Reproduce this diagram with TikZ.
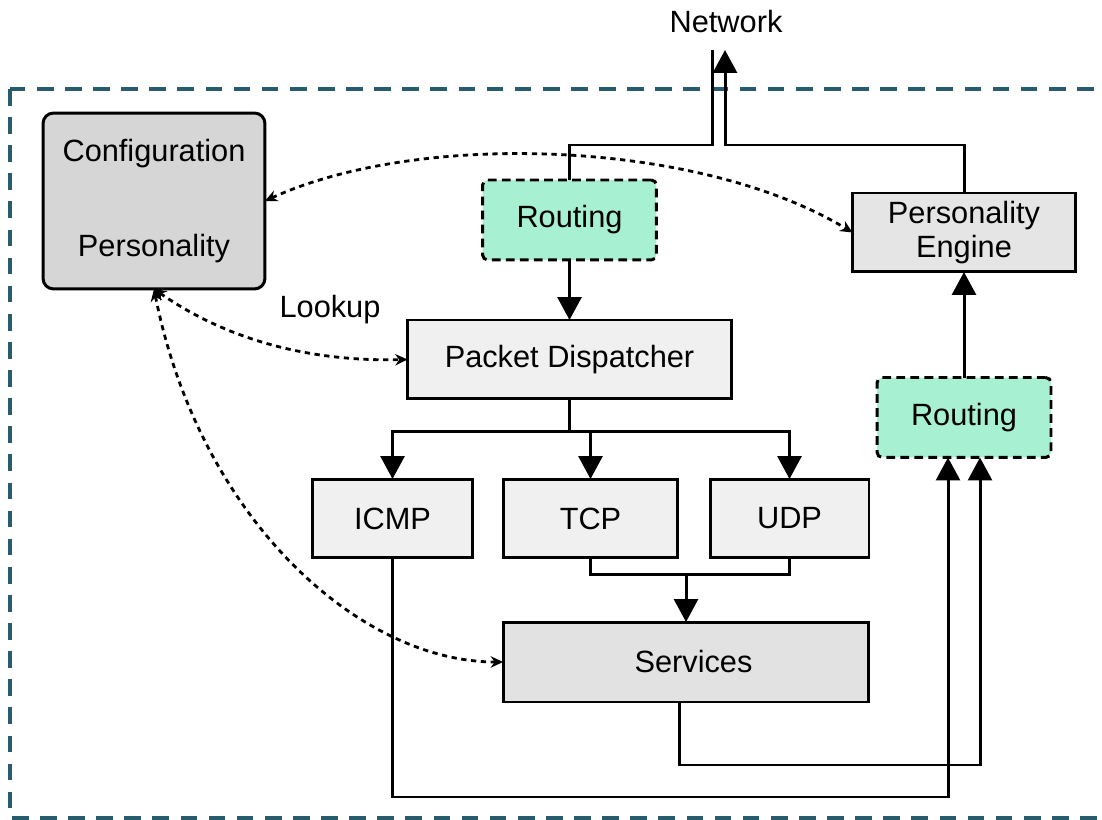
\documentclass[tikz,border=0pt]{standalone}
\usepackage{fontspec}
\setmainfont{Liberation Sans}
\usetikzlibrary{arrows.meta,calc}
\definecolor{borderteal}{RGB}{40,92,108}
\definecolor{mint}{RGB}{168,240,210}
\definecolor{confgray}{RGB}{214,214,214}
\definecolor{pegray}{RGB}{229,229,229}
\definecolor{servgray}{RGB}{226,226,226}
\definecolor{light}{RGB}{240,240,240}
\begin{document}
\begin{tikzpicture}[x=0.02cm,y=-0.02cm,font=\fontsize{17.5}{19}\selectfont,
	box/.style={draw,line width=1.7pt,fill=#1,inner sep=0pt,outer sep=0pt,align=center},
	route/.style={box=mint,dash pattern=on 5pt off 3pt,rounded corners=3pt,minimum width=3.48cm,minimum height=1.6cm},
	line/.style={line width=1.7pt},
	arr/.style={line,-{Triangle[length=0.46cm,width=0.48cm]}},
	dots/.style={line width=1.6pt,dash pattern=on 3pt off 2.6pt,{Stealth[length=7pt,width=6.5pt]}-{Stealth[length=7pt,width=6.5pt]}}]
	\useasboundingbox (0,0) rectangle (1102,820);
	\draw[borderteal,line width=2.3pt,dash pattern=on 9.5pt off 6.5pt] (10,89) rectangle (1130,818);
	\node[box=confgray,rounded corners=6pt,minimum width=4.44cm,minimum height=3.52cm] (conf) at (154,201) {Configuration\\[35.5pt]Personality};
	\node[route] (rtop) at (569.5,220) {Routing};
	\node[route] (rright) at (964,417.5) {Routing};
	\node[box=pegray,minimum width=4.46cm,minimum height=1.58cm] (pe) at (964,232.5) {Personality\\Engine};
	\node[box=light,minimum width=6.48cm,minimum height=1.58cm] (pd) at (569.5,359.5) {Packet Dispatcher};
	\foreach \n/\t/\x/\w in {icmp/ICMP/392.5/3.2,tcp/TCP/590.5/3.5,udp/UDP/789.5/3.18}
		\node[box=light,minimum width=\w cm,minimum height=1.58cm] (\n) at (\x,518.5) {\t};
	\node[box=servgray,minimum width=7.32cm,minimum height=1.6cm] (serv) at (686,662) {\hspace*{0.3cm}Services};
	\node (net) at (726,22) {Network};
	\node (lookup) at (330,310) {Lookup};
	\path
	(712,50) coordinate (netL)
	(725,50) coordinate (netR)
	;
	\draw[line] (rtop.north) -- ++(0,-35) -| (netL);
	\draw[arr] (pe.north) -- ++(0,-48) -| (netR);
	\draw[arr] (rtop) -- (pd);
	\draw[line] (pd.south) -- ++(0,33) coordinate (split);
	\foreach \n in {icmp,tcp,udp} \draw[arr] (split) -| (\n.north);
	\draw[line] (tcp.south) -- ++(0,17) coordinate (join) -| (udp.south);
	\draw[arr] (join -| serv.north) -- (serv.north);
	\draw[arr] (icmp.south) -- ++(0,239) -| ($(rright.south)+(-16,0)$);
	\draw[arr] ($(serv.south)+(-7,0)$) -- ++(0,63) -| ($(rright.south)+(16,0)$);
	\draw[arr] (rright) -- (pe);
	\draw[dots] (conf.east) .. controls (420,130) and (700,140) .. (pe.west);
	\draw[dots] (conf.south) .. controls (220,335) and (300,362) .. (pd.west);
	\draw[dots] (conf.south) .. controls (200,520) and (360,662) .. (serv.west);
\end{tikzpicture}
\end{document}
